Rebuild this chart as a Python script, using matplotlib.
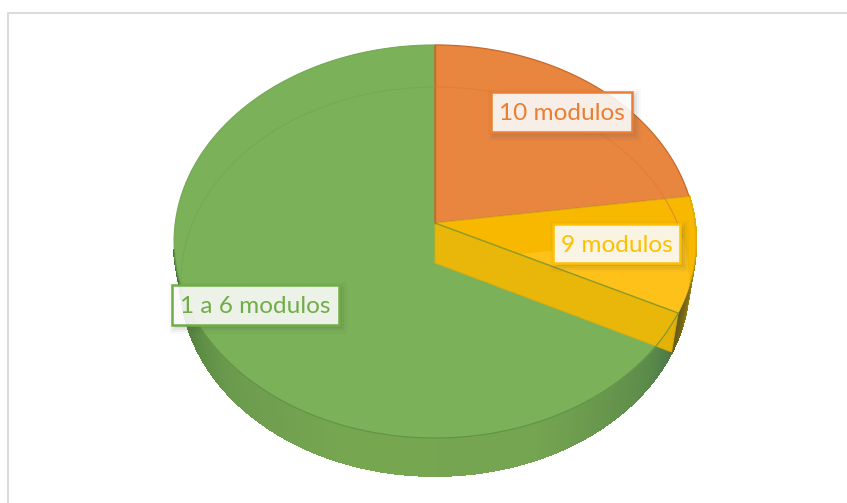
import numpy as np
import matplotlib
matplotlib.use('Agg')
import matplotlib.pyplot as plt
from matplotlib.collections import PolyCollection
from matplotlib.patches import Polygon, Rectangle

plt.rcParams['font.family'] = ['Lato', 'DejaVu Sans']

labels = ['10 modulos', '9 modulos', '1 a 6 modulos']
shares = [22.8, 9.5, 67.7]

# pie is seen in perspective: apex sits above the ellipse centre
CX = 435
TOP = dict(apex=223, a=194.8, d=259.8)
BOTTOM = dict(apex=263, a=192.6, d=252.9)
PERSP = 0.0941


def rim(t_deg, face):
    t = np.radians(np.atleast_1d(t_deg))
    w = 1 + PERSP * np.sin(t)
    x = CX + face['d'] * np.cos(t) / w
    y = face['apex'] - face['a'] * np.sin(t) / w
    return np.column_stack([x, y])


def wedge(t0, t1, face):
    ts = np.linspace(t0, t1, 120)
    return np.vstack([[CX, face['apex']], rim(ts, face)])


def wall_strips(t0, t1, stops, colors, n=160):
    ts = np.linspace(t0, t1, n + 1)
    top, bot = rim(ts, TOP), rim(ts, BOTTOM)
    polys = [[top[i], top[i + 1], bot[i + 1], bot[i]] for i in range(n)]
    rgb = np.array([matplotlib.colors.to_rgb(c) for c in colors])
    mid = (ts[:-1] + ts[1:]) / 2
    cols = np.column_stack([np.interp(mid, stops, rgb[:, k]) for k in range(3)])
    return PolyCollection(polys, facecolors=cols, edgecolors=cols, linewidths=1.2, antialiaseds=False)


# angles go clockwise from twelve o'clock
cuts = 90 - 360 * np.cumsum([0] + shares) / sum(shares)
a_orange, a_yellow, a_green, a_end = cuts

fig = plt.figure(figsize=(8.47, 5.03), dpi=100)
ax = fig.add_axes([0, 0, 1, 1])
ax.set_xlim(0, 847)
ax.set_ylim(503, 0)
ax.axis('off')

# frame
ax.plot([7.5, 7.5, 847], [503, 12.5, 12.5], color='#d9d9d9', lw=1.4)

# outer side walls
ax.add_collection(wall_strips(a_green, -172, [-172, -165, -140, -110, -70, -40, -27],
                              ['#466f33', '#4f7d3b', '#6a9a4d', '#77a651', '#76a551', '#5c8c4a', '#4b7646']))
ax.add_collection(wall_strips(a_yellow, a_green, [-27, -18, -8, 8],
                              ['#5f5a1c', '#8a7412', '#d8a80c', '#f0b800']))

# green top
ax.add_patch(Polygon(wedge(a_green, a_end, TOP), fc='#7bb159', ec='#74a854', lw=0.8))

# orange top
ax.add_patch(Polygon(wedge(a_orange, a_yellow, TOP), fc='#e8853f', ec='#c8692c', lw=0.9))

# yellow top, with the bottom wedge showing through
yellow_top = Polygon(wedge(a_yellow, a_green, TOP), fc='#f8b800', ec='#d9ac10', lw=0.7)
ax.add_patch(yellow_top)
see_through = Polygon(wedge(a_yellow, a_green, BOTTOM), fc='#fdc11a', ec='none')
ax.add_patch(see_through)
see_through.set_clip_path(yellow_top)

# faint bottom rim seen through the top
ts = np.linspace(a_yellow, 90, 80)
pts = rim(ts, BOTTOM)
ax.plot(pts[:, 0], pts[:, 1], color='#e07c36', lw=0.8, alpha=0.8)
ts = np.linspace(90, 192, 120)
pts = rim(ts, BOTTOM)
ax.plot(pts[:, 0], pts[:, 1], color='#74a854', lw=0.8, alpha=0.8)

# cut face of the yellow slice, lies over the green
c_top, c_bot = rim(a_green, TOP)[0], rim(a_green, BOTTOM)[0]
cut_face = [[CX, TOP['apex']], c_top, c_bot, [CX, BOTTOM['apex']]]
ax.add_patch(Polygon(cut_face, fc='#f5b800', ec='#d9ac10', lw=0.7, alpha=0.9))

# green rim passes over the cut face, then along the front
ts = np.linspace(a_green, -172, 300)
pts = rim(ts, TOP)
ax.plot(pts[:, 0], pts[:, 1], color='#5f8f45', lw=0.8, alpha=0.85)
# radial line between yellow top and cut face
ax.plot([CX, c_top[0]], [TOP['apex'], c_top[1]], color='#8f9a2a', lw=1)
ax.plot([CX, CX], [45, TOP['apex']], color='#c8692c', lw=1)

# data labels
boxes = [(491, 92, 141, 40), (553, 224, 127, 39), (172, 285, 167, 40)]
text_colors = ['#ed7d31', '#ffc000', '#70ad47']
for name, (x, y, w, h), col in zip(labels, boxes, text_colors):
    for grow, alpha in [(6, 0.03), (4, 0.05), (2, 0.07), (0, 0.09)]:
        ax.add_patch(Rectangle((x + 3 - grow, y + 3 - grow), w + 2 * grow, h + 2 * grow,
                               fc='#555555', ec='none', alpha=alpha, zorder=5))
    ax.add_patch(Rectangle((x, y), w, h, fc=(1, 1, 1, 0.88), ec=col, lw=1.8, zorder=6))
    ax.text(x + w / 2, y + h / 2 + 1.5, name, color=col, fontsize=17.6, ha='center', va='center', zorder=7)

fig.savefig('out.png', dpi=100)
